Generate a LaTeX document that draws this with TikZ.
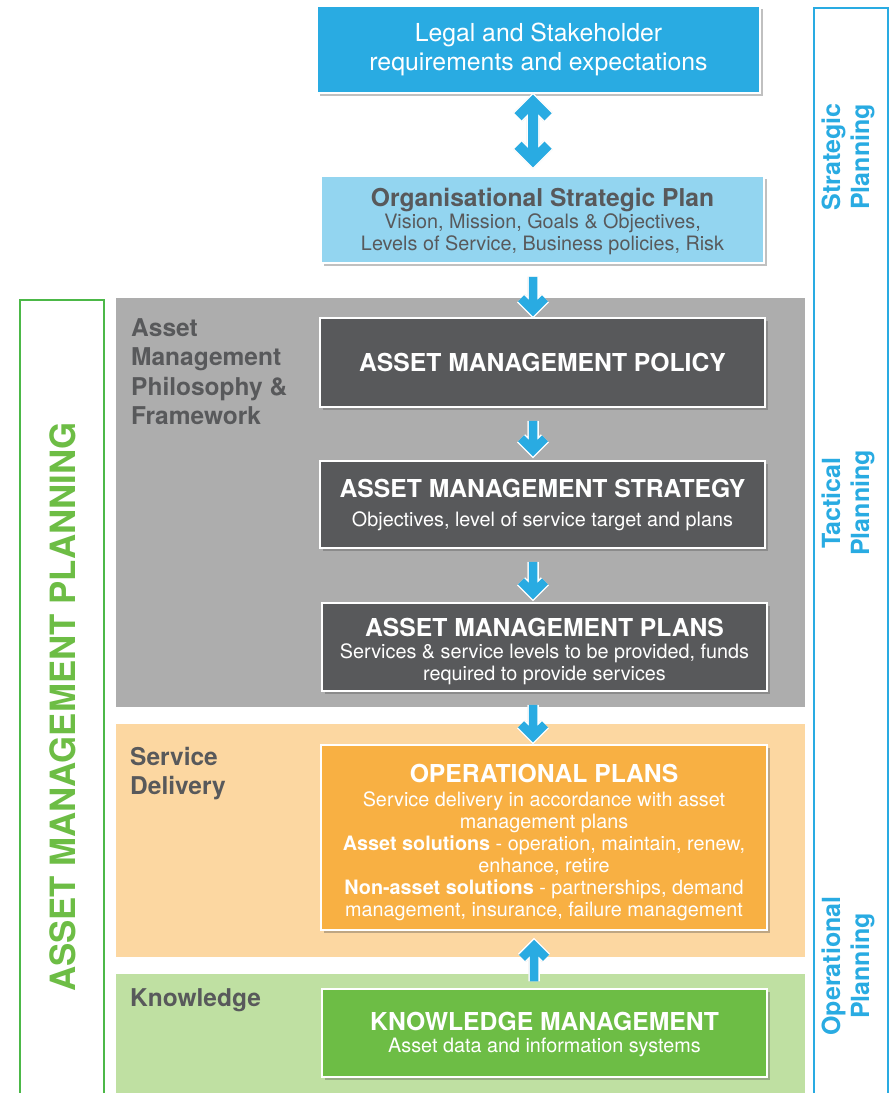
\documentclass[tikz,border=0pt]{standalone}
\usepackage{fontspec}
\setmainfont{TeX Gyre Heros}
\usetikzlibrary{calc,shadows}

\definecolor{skyblue}{HTML}{29ABE2}
\definecolor{paleblue}{HTML}{93D5F0}
\definecolor{slate}{HTML}{58595B}
\definecolor{amber}{HTML}{F8B043}
\definecolor{leaf}{HTML}{6DBD45}
\definecolor{bandgray}{HTML}{ADADAD}
\definecolor{bandorange}{HTML}{FCD7A1}
\definecolor{bandgreen}{HTML}{BFE0A2}
\definecolor{framegreen}{HTML}{4CB848}
\definecolor{labelgray}{HTML}{58595B}

% invisible strut that raises the first line of a box
\newcommand\lift[1]{\rule{0pt}{#1}}

% chevron arrows: shaft from #1 to tip #2, barbs of size #3, stroke width #4
% drawn in three passes: soft shadow, white outline, blue body
\newcommand\chevdown[4]{%
  \foreach \col/\extra/\dx/\dy/\op in {black/3/2/2/0.15, white/3/0/0/1, skyblue/0/0/0/1}{%
    \begin{scope}[shift={(\dx,\dy)}]
      \draw[draw=\col, opacity=\op, line width=#4+\extra, line cap=butt, line join=miter]
        (#1) -- (#2)
        ($(#2)+(-#3,-#3)$) -- (#2) -- ($(#2)+(#3,-#3)$);
    \end{scope}}}
\newcommand\chevup[4]{%
  \foreach \col/\extra/\dx/\dy/\op in {black/3/2/2/0.15, white/3/0/0/1, skyblue/0/0/0/1}{%
    \begin{scope}[shift={(\dx,\dy)}]
      \draw[draw=\col, opacity=\op, line width=#4+\extra, line cap=butt, line join=miter]
        (#1) -- (#2)
        ($(#2)+(-#3,#3)$) -- (#2) -- ($(#2)+(#3,#3)$);
    \end{scope}}}
% two-headed chevron arrow between top tip #1 and bottom tip #2
\newcommand\chevboth[4]{%
  \foreach \col/\extra/\dx/\dy/\op in {black/3/2/2/0.15, white/3/0/0/1, skyblue/0/0/0/1}{%
    \begin{scope}[shift={(\dx,\dy)}]
      \draw[draw=\col, opacity=\op, line width=#4+\extra, line cap=butt, line join=miter]
        (#1) -- (#2)
        ($(#2)+(-#3,-#3)$) -- (#2) -- ($(#2)+(#3,-#3)$)
        ($(#1)+(-#3,#3)$) -- (#1) -- ($(#1)+(#3,#3)$);
    \end{scope}}}

\begin{document}
\begin{tikzpicture}[x=1pt,y=-1pt,
  box/.style={rectangle, draw=white, line width=1.5pt, inner sep=0pt, align=center,
    drop shadow={shadow xshift=2.5pt, shadow yshift=-3pt, opacity=.35, fill=black!70}},
  body/.style={font=\fontsize{19.8}{22}\selectfont},
  sidelabel/.style={anchor=north west, inner sep=0pt, align=left, text=labelgray,
    font=\fontsize{24.5}{29.5}\selectfont\bfseries},
  phase/.style={rotate=90, align=center, text=skyblue, inner sep=0pt,
    font=\fontsize{25}{29}\selectfont\bfseries}
]
\useasboundingbox (0,0) rectangle (890,1093);
\fill[white] (0,0) rectangle (890,1093);

% background bands
\fill[bandgray]   (116,298) rectangle (805,707);
\fill[bandorange] (116,724) rectangle (805,957);
\fill[bandgreen]  (116,974) rectangle (805,1100);

% outer frames
\draw[framegreen, line width=2pt] (20,1110) -- (20,300) -- (104,300) -- (104,1110);
\draw[skyblue, line width=2pt] (814,1110) -- (814,8) -- (888,8) -- (888,1110);

% frame labels
\node[rotate=90, text=leaf, inner sep=0pt, font=\fontsize{34.8}{35}\selectfont\bfseries]
  (amp) at (63,707) {ASSET MANAGEMENT PLANNING};
\node[phase] (strat) at (848,157) {Strategic\\Planning};
\node[phase] (tact) at (848,503) {Tactical\\Planning};
\node[phase] (oper) at (848,966) {Operational\\Planning};

% band labels
\node[sidelabel] (philo) at (131,318) {Asset\\Management\\Philosophy \&\\Framework};
\node[sidelabel] (deliv) at (130,747) {Service\\Delivery};
\node[sidelabel] (know) at (130,988) {Knowledge};

% boxes
\node[box, fill=skyblue, text=white, minimum width=443pt, minimum height=87pt,
  font=\fontsize{24.8}{29}\selectfont] (legal) at (538.5,49.5)
  {Legal and Stakeholder\\requirements and expectations};

\node[box, fill=paleblue, text=labelgray, minimum width=443pt, minimum height=87pt, body]
  (osp) at (542.5,219.5)
  {{\fontsize{24.6}{22}\selectfont\bfseries\lift{22pt}Organisational Strategic Plan}\\
   Vision, Mission, Goals \& Objectives,\\Levels of Service, Business policies, Risk};

\node[box, fill=slate, text=white, minimum width=445pt, minimum height=89pt,
  font=\fontsize{24.7}{22}\selectfont\bfseries] (policy) at (542.5,362.5)
  {ASSET MANAGEMENT POLICY};

\node[box, fill=slate, text=white, minimum width=445pt, minimum height=87pt, body]
  (strategy) at (542.5,504.5)
  {{\fontsize{24.7}{22}\selectfont\bfseries ASSET MANAGEMENT STRATEGY}\\[7pt]
   Objectives, level of service target and plans};

\node[box, fill=slate, text=white, minimum width=445pt, minimum height=88pt, body]
  (plans) at (544.5,647)
  {{\fontsize{24.7}{22}\selectfont\bfseries\lift{28pt}ASSET MANAGEMENT PLANS}\\
   Services \& service levels to be provided, funds\\required to provide services};

\node[box, fill=amber, text=white, minimum width=446pt, minimum height=185pt, body]
  (ops) at (544,837.5)
  {{\fontsize{24.7}{22}\selectfont\bfseries\lift{28pt}OPERATIONAL PLANS}\\[2pt]
   Service delivery in accordance with asset\\management plans\\
   \textbf{Asset solutions} - operation, maintain, renew,\\enhance, retire\\
   \textbf{Non-asset solutions} - partnerships, demand\\management, insurance, failure management};

\node[box, fill=leaf, text=white, minimum width=445pt, minimum height=88pt, body]
  (km) at (544.5,1033)
  {{\fontsize{24.7}{22}\selectfont\bfseries\lift{22pt}KNOWLEDGE MANAGEMENT}\\
   Asset data and information systems};

% connectors
\chevboth{$(legal.south)+(-5.5,8)$}{$(osp.north)+(-9.5,-15)$}{15}{10}
\chevdown{$(osp.south)+(-9.5,13)$}{$(policy.north)+(-9.5,-7)$}{12}{8.5}
\chevdown{$(policy.south)+(-9.5,13)$}{$(strategy.north)+(-9.5,-10)$}{12}{8.5}
\chevdown{$(strategy.south)+(-9.5,13)$}{$(plans.north)+(-11.5,-9)$}{12}{8.5}
\chevdown{$(plans.south)+(-11.5,13)$}{$(ops.north)+(-11,-8)$}{12}{8.5}
\chevup{$(km.north)+(-10.5,-7)$}{$(ops.south)+(-10,15)$}{12}{8.5}
\end{tikzpicture}
\end{document}
